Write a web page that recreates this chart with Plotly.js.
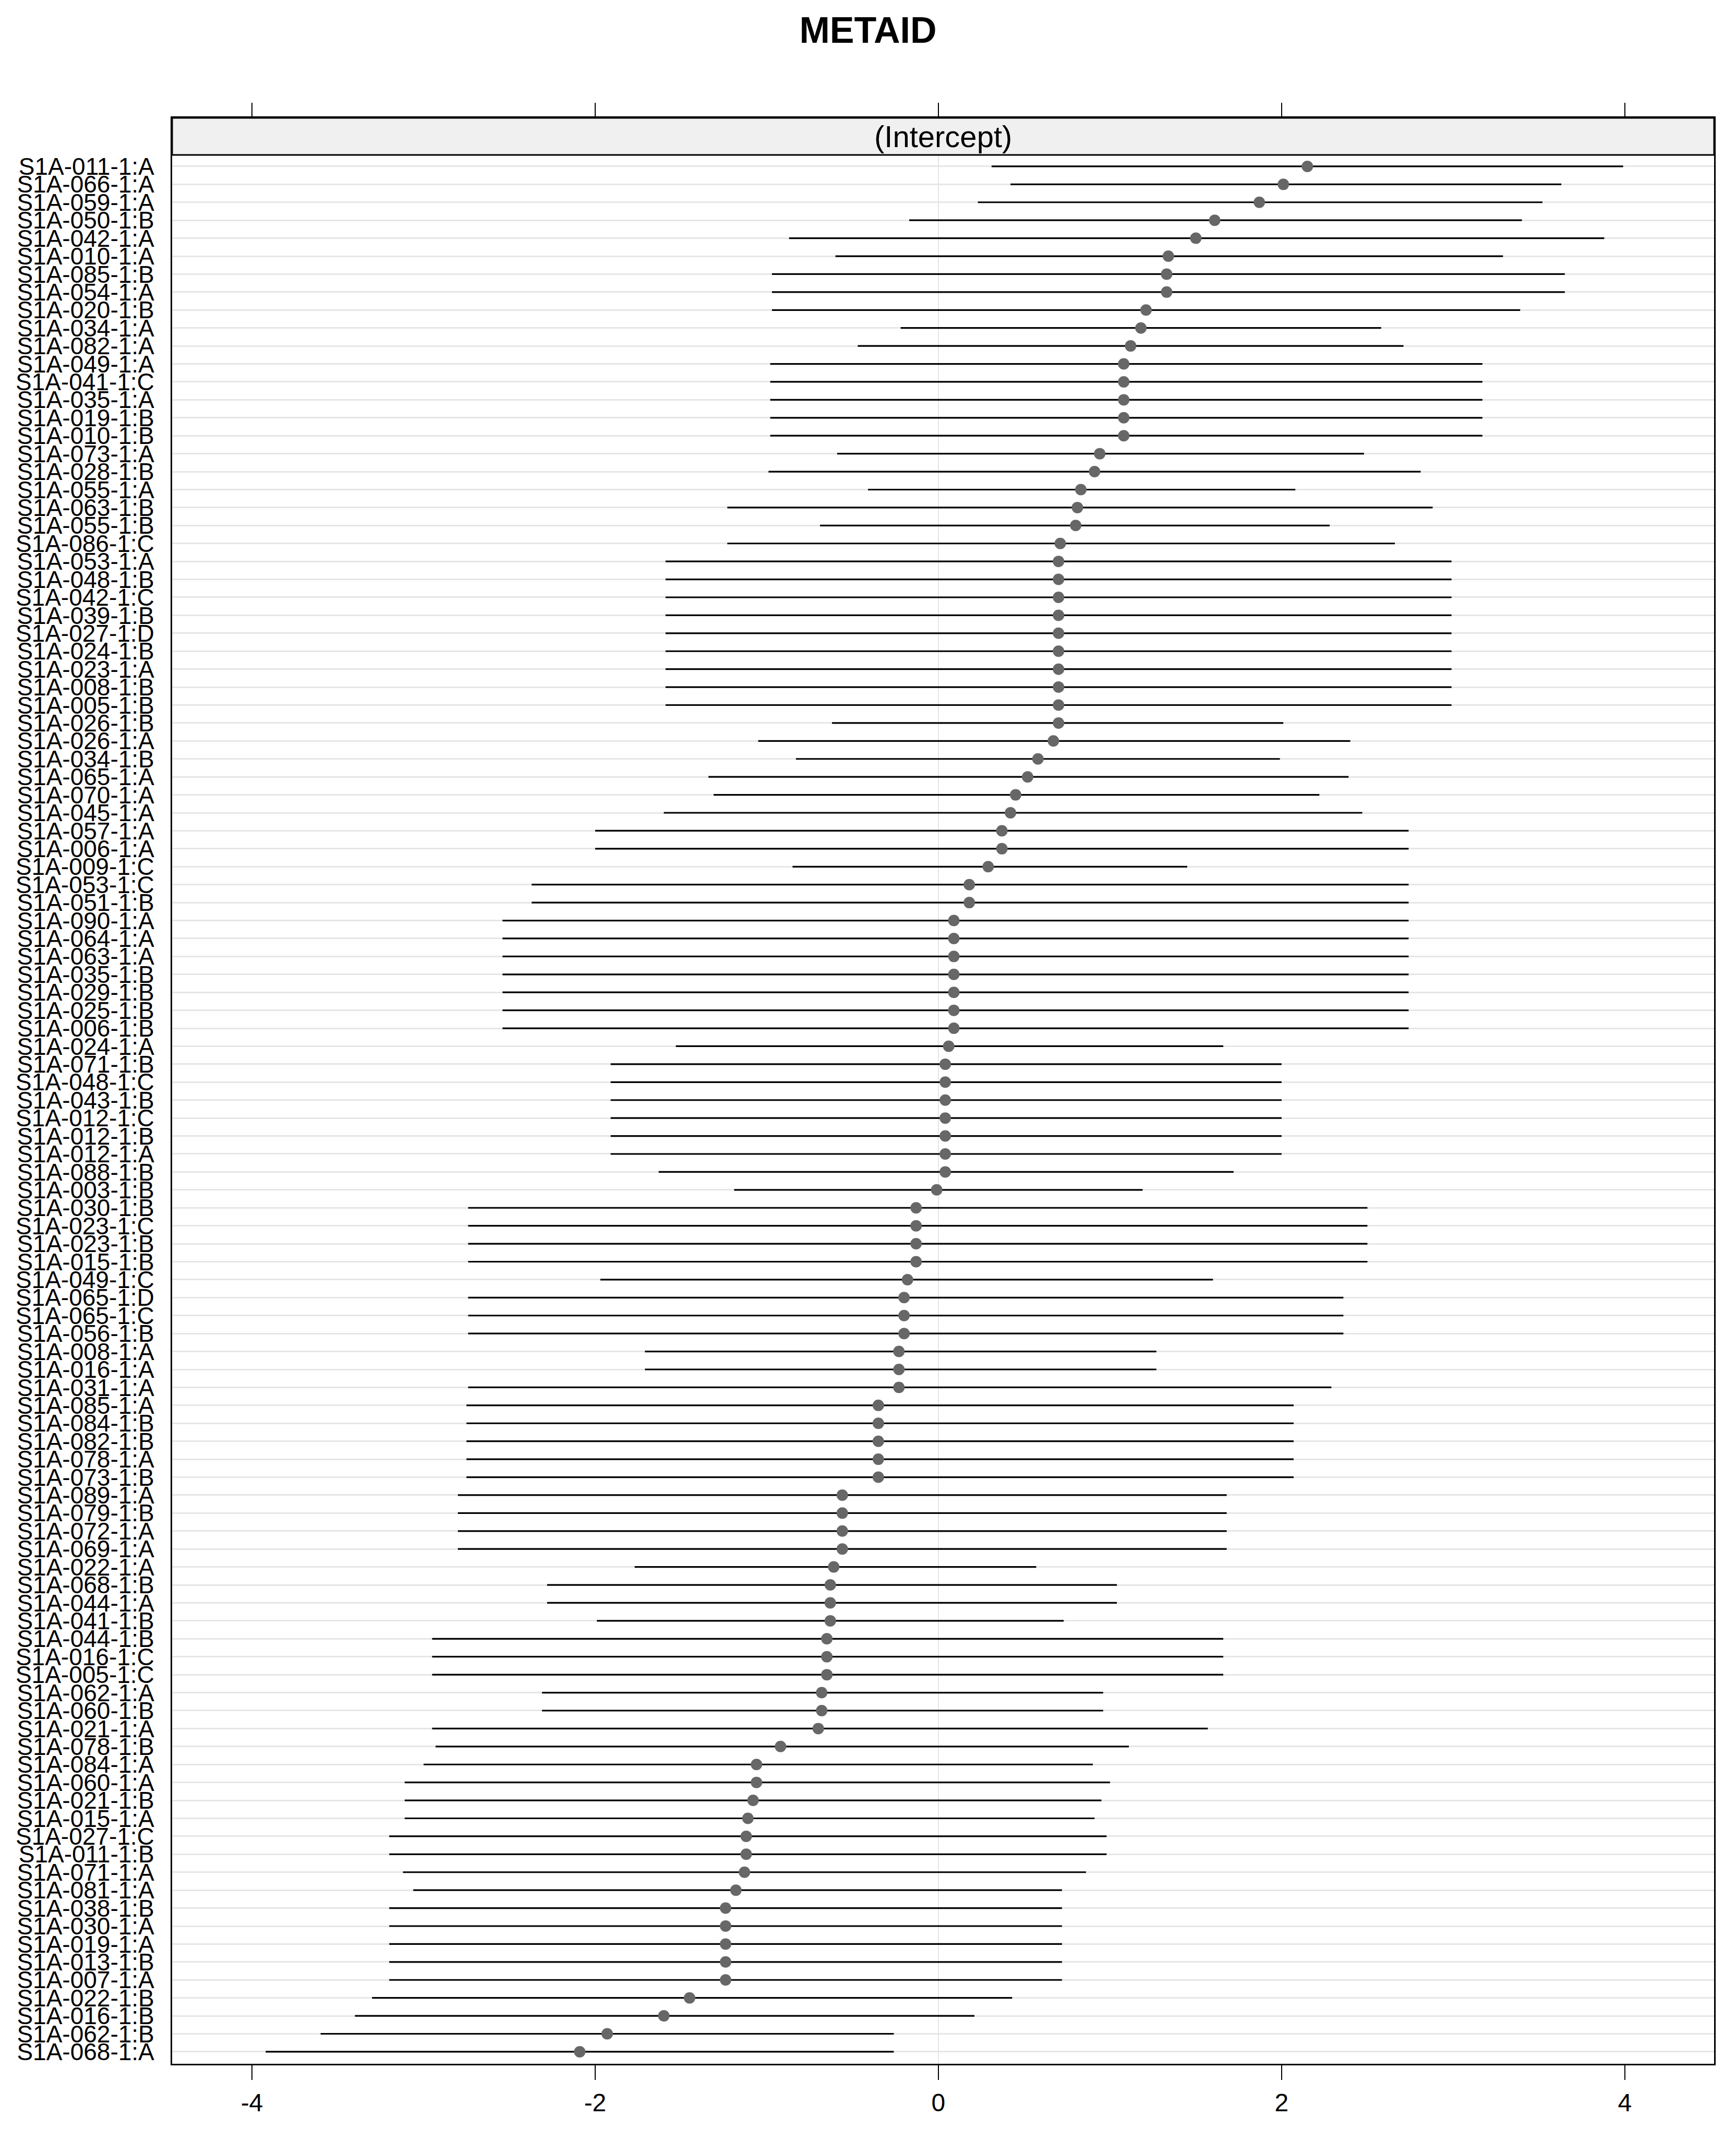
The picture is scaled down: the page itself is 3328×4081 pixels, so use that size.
<!DOCTYPE html>
<html>
<head>
<meta charset="utf-8">
<script src="https://cdn.plot.ly/plotly-3.0.1.min.js"></script>
<style>html,body{margin:0;padding:0;background:#fff;}#chart{width:3328px;height:4081px;}</style>
</head>
<body>
<div id="chart"></div>
<script>
// Row labels, top to bottom
var labels = [
"S1A-011-1:A","S1A-066-1:A","S1A-059-1:A","S1A-050-1:B","S1A-042-1:A","S1A-010-1:A","S1A-085-1:B","S1A-054-1:A","S1A-020-1:B","S1A-034-1:A",
"S1A-082-1:A","S1A-049-1:A","S1A-041-1:C","S1A-035-1:A","S1A-019-1:B","S1A-010-1:B","S1A-073-1:A","S1A-028-1:B","S1A-055-1:A","S1A-063-1:B",
"S1A-055-1:B","S1A-086-1:C","S1A-053-1:A","S1A-048-1:B","S1A-042-1:C","S1A-039-1:B","S1A-027-1:D","S1A-024-1:B","S1A-023-1:A","S1A-008-1:B",
"S1A-005-1:B","S1A-026-1:B","S1A-026-1:A","S1A-034-1:B","S1A-065-1:A","S1A-070-1:A","S1A-045-1:A","S1A-057-1:A","S1A-006-1:A","S1A-009-1:C",
"S1A-053-1:C","S1A-051-1:B","S1A-090-1:A","S1A-064-1:A","S1A-063-1:A","S1A-035-1:B","S1A-029-1:B","S1A-025-1:B","S1A-006-1:B","S1A-024-1:A",
"S1A-071-1:B","S1A-048-1:C","S1A-043-1:B","S1A-012-1:C","S1A-012-1:B","S1A-012-1:A","S1A-088-1:B","S1A-003-1:B","S1A-030-1:B","S1A-023-1:C",
"S1A-023-1:B","S1A-015-1:B","S1A-049-1:C","S1A-065-1:D","S1A-065-1:C","S1A-056-1:B","S1A-008-1:A","S1A-016-1:A","S1A-031-1:A","S1A-085-1:A",
"S1A-084-1:B","S1A-082-1:B","S1A-078-1:A","S1A-073-1:B","S1A-089-1:A","S1A-079-1:B","S1A-072-1:A","S1A-069-1:A","S1A-022-1:A","S1A-068-1:B",
"S1A-044-1:A","S1A-041-1:B","S1A-044-1:B","S1A-016-1:C","S1A-005-1:C","S1A-062-1:A","S1A-060-1:B","S1A-021-1:A","S1A-078-1:B","S1A-084-1:A",
"S1A-060-1:A","S1A-021-1:B","S1A-015-1:A","S1A-027-1:C","S1A-011-1:B","S1A-071-1:A","S1A-081-1:A","S1A-038-1:B","S1A-030-1:A","S1A-019-1:A",
"S1A-013-1:B","S1A-007-1:A","S1A-022-1:B","S1A-016-1:B","S1A-062-1:B","S1A-068-1:A"
];
// Point estimates (intercept)
var estimate = [
2.15,2.01,1.87,1.61,1.50,1.34,1.33,1.33,1.21,1.18,
1.12,1.08,1.08,1.08,1.08,1.08,0.94,0.91,0.83,0.81,
0.80,0.71,0.70,0.70,0.70,0.70,0.70,0.70,0.70,0.70,
0.70,0.70,0.67,0.58,0.52,0.45,0.42,0.37,0.37,0.29,
0.18,0.18,0.09,0.09,0.09,0.09,0.09,0.09,0.09,0.06,
0.04,0.04,0.04,0.04,0.04,0.04,0.04,-0.01,-0.13,-0.13,
-0.13,-0.13,-0.18,-0.20,-0.20,-0.20,-0.23,-0.23,-0.23,-0.35,
-0.35,-0.35,-0.35,-0.35,-0.56,-0.56,-0.56,-0.56,-0.61,-0.63,
-0.63,-0.63,-0.65,-0.65,-0.65,-0.68,-0.68,-0.70,-0.92,-1.06,
-1.06,-1.08,-1.11,-1.12,-1.12,-1.13,-1.18,-1.24,-1.24,-1.24,
-1.24,-1.24,-1.45,-1.60,-1.93,-2.09
];
// Lower interval bounds
var lower = [
0.31,0.42,0.23,-0.17,-0.87,-0.60,-0.97,-0.97,-0.97,-0.22,
-0.47,-0.98,-0.98,-0.98,-0.98,-0.98,-0.59,-0.99,-0.41,-1.23,
-0.69,-1.23,-1.59,-1.59,-1.59,-1.59,-1.59,-1.59,-1.59,-1.59,
-1.59,-0.62,-1.05,-0.83,-1.34,-1.31,-1.60,-2.00,-2.00,-0.85,
-2.37,-2.37,-2.54,-2.54,-2.54,-2.54,-2.54,-2.54,-2.54,-1.53,
-1.91,-1.91,-1.91,-1.91,-1.91,-1.91,-1.63,-1.19,-2.74,-2.74,
-2.74,-2.74,-1.97,-2.74,-2.74,-2.74,-1.71,-1.71,-2.74,-2.75,
-2.75,-2.75,-2.75,-2.75,-2.80,-2.80,-2.80,-2.80,-1.77,-2.28,
-2.28,-1.99,-2.95,-2.95,-2.95,-2.31,-2.31,-2.95,-2.93,-3.00,
-3.11,-3.11,-3.11,-3.20,-3.20,-3.12,-3.06,-3.20,-3.20,-3.20,
-3.20,-3.20,-3.30,-3.40,-3.60,-3.92
];
// Upper interval bounds
var upper = [
3.99,3.63,3.52,3.40,3.88,3.29,3.65,3.65,3.39,2.58,
2.71,3.17,3.17,3.17,3.17,3.17,2.48,2.81,2.08,2.88,
2.28,2.66,2.99,2.99,2.99,2.99,2.99,2.99,2.99,2.99,
2.99,2.01,2.40,1.99,2.39,2.22,2.47,2.74,2.74,1.45,
2.74,2.74,2.74,2.74,2.74,2.74,2.74,2.74,2.74,1.66,
2.00,2.00,2.00,2.00,2.00,2.00,1.72,1.19,2.50,2.50,
2.50,2.50,1.60,2.36,2.36,2.36,1.27,1.27,2.29,2.07,
2.07,2.07,2.07,2.07,1.68,1.68,1.68,1.68,0.57,1.04,
1.04,0.73,1.66,1.66,1.66,0.96,0.96,1.57,1.11,0.90,
1.00,0.95,0.91,0.98,0.98,0.86,0.72,0.72,0.72,0.72,
0.72,0.72,0.43,0.21,-0.26,-0.26
];
var xTicks = [-4, -2, 0, 2, 4];
var panelTitle = "(Intercept)";
var chartTitle = "METAID";

var N = labels.length;
var ypos = labels.map(function(_, i){ return N - 1 - i; });
var errPlus = upper.map(function(u, i){ return u - estimate[i]; });
var errMinus = lower.map(function(l, i){ return estimate[i] - l; });

var FONT = "Liberation Sans, Arial, sans-serif";
var yBottom = -0.67;
var panelTop = N - 1 + 0.64;
var yTop = panelTop + 2.06;
var xRange = [-4.465, 4.52];

var traces = [
  {
    type: "scatter", mode: "markers",
    x: estimate, y: ypos,
    marker: {color: "#676767", size: 22, line: {width: 0}},
    error_x: {type: "data", symmetric: false, array: errPlus, arrayminus: errMinus,
              color: "#000000", thickness: 3.2, width: 0},
    hoverinfo: "skip", showlegend: false
  },
  {
    type: "scatter", mode: "markers", xaxis: "x2", yaxis: "y",
    x: estimate, y: ypos, marker: {opacity: 0, size: 1},
    hoverinfo: "skip", showlegend: false
  }
];

var layout = {
  width: 3328, height: 4081,
  paper_bgcolor: "#ffffff", plot_bgcolor: "#ffffff",
  margin: {l: 330, r: 42, t: 226, b: 125, pad: 0},
  font: {family: FONT, color: "#000000", size: 46},
  title: {text: "<b>" + chartTitle + "</b>", font: {family: FONT, size: 70, color: "#000000"},
          x: 0.5, xref: "container", xanchor: "center", y: 1 - 57/4081, yref: "container", yanchor: "middle"},
  showlegend: false,
  xaxis: {
    range: xRange, tickmode: "array", tickvals: xTicks, ticktext: xTicks.map(String),
    ticks: "outside", ticklen: 28, tickwidth: 2, tickcolor: "#000",
    showgrid: false, zeroline: false,
    showline: true, linecolor: "#000", linewidth: 3, mirror: true,
    tickfont: {family: FONT, size: 48, color: "#000"}, ticklabelstandoff: 2
  },
  xaxis2: {
    range: xRange, overlaying: "x", side: "top", anchor: "y",
    tickmode: "array", tickvals: xTicks, showticklabels: false,
    ticks: "outside", ticklen: 28, tickwidth: 2, tickcolor: "#000",
    showgrid: false, zeroline: false, showline: false
  },
  yaxis: {
    range: [yBottom, yTop], tickmode: "array", tickvals: ypos, ticktext: labels,
    ticks: "", showgrid: true, gridcolor: "#e6e6e6", gridwidth: 3,
    zeroline: false, showline: true, linecolor: "#000", linewidth: 3, mirror: true,
    tickfont: {family: FONT, size: 46, color: "#000"}, ticklabelstandoff: 22
  },
  shapes: [
    {type: "line", xref: "x", yref: "y", x0: 0, x1: 0, y0: yBottom, y1: panelTop,
     line: {color: "#e6e6e6", width: 2}, layer: "below"},
    {type: "rect", xref: "paper", yref: "y", x0: 0, x1: 1, y0: panelTop, y1: yTop,
     fillcolor: "#f0f0f0", line: {color: "#000", width: 3}, layer: "above"}
  ],
  annotations: [
    {text: panelTitle, xref: "paper", yref: "y", x: 0.5, y: (panelTop + yTop) / 2,
     xanchor: "center", yanchor: "middle", showarrow: false,
     font: {family: FONT, size: 58, color: "#000"}}
  ]
};

Plotly.newPlot("chart", traces, layout, {staticPlot: true, displayModeBar: false});
</script>
</body>
</html>
